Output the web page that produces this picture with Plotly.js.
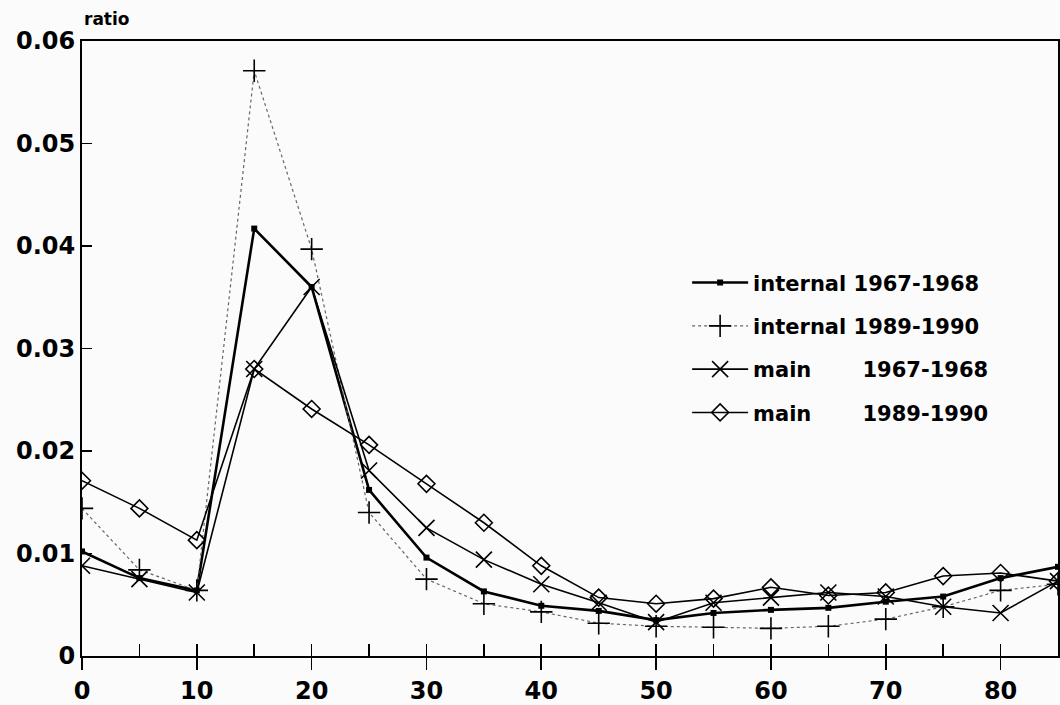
<!DOCTYPE html>
<html>
<head>
<meta charset="utf-8">
<script src="https://cdn.plot.ly/plotly-3.0.1.min.js"></script>
<style>html,body{margin:0;padding:0;background:#fbfbfb;}#chart{width:1060px;height:705px;}</style>
</head>
<body>
<div id="chart"></div>
<script>
// Data
const ages = [0, 5, 10, 15, 20, 25, 30, 35, 40, 45, 50, 55, 60, 65, 70, 75, 80, 85];
const internal6768 = [0.0102, 0.0076, 0.0064, 0.0417, 0.0360, 0.0162, 0.0096, 0.0063, 0.0049, 0.0044, 0.0035, 0.0042, 0.0045, 0.0047, 0.0053, 0.0058, 0.0076, 0.0087];
const internal8990 = [0.0144, 0.0084, 0.0064, 0.0571, 0.0397, 0.0140, 0.0075, 0.0051, 0.0043, 0.0032, 0.0029, 0.0028, 0.0027, 0.0029, 0.0036, 0.0048, 0.0064, 0.0070];
const main6768 = [0.0088, 0.0075, 0.0062, 0.0280, 0.0360, 0.0181, 0.0125, 0.0094, 0.0070, 0.0052, 0.0033, 0.0052, 0.0057, 0.0062, 0.0058, 0.0048, 0.0042, 0.0073];
const main8990 = [0.0171, 0.0144, 0.0113, 0.0280, 0.0241, 0.0206, 0.0168, 0.0130, 0.0088, 0.0057, 0.0051, 0.0056, 0.0067, 0.0059, 0.0062, 0.0078, 0.0081, 0.0073];
const seriesNames = ["internal 1967-1968", "internal 1989-1990", "main\u00A0\u00A0\u00A0\u00A0\u00A0\u00A0\u00A01967-1968", "main\u00A0\u00A0\u00A0\u00A0\u00A0\u00A0\u00A01989-1990"];
const yTickVals = [0, 0.01, 0.02, 0.03, 0.04, 0.05, 0.06];
const yTickText = ["0", "0.01", "0.02", "0.03", "0.04", "0.05", "0.06"];
const xMajorTicks = [0, 10, 20, 30, 40, 50, 60, 70, 80];
const xAllTicks = [0, 5, 10, 15, 20, 25, 30, 35, 40, 45, 50, 55, 60, 65, 70, 75, 80, 85];

const traces = [
  {x: ages, y: internal6768, name: seriesNames[0], legendgroup: 'a', mode: 'lines+markers',
   line: {color: '#000', width: 2.6}, marker: {symbol: 'square', size: 6, color: '#000'}},
  {x: ages, y: internal8990, name: seriesNames[1], legendgroup: 'b', mode: 'lines+markers',
   line: {color: '#666', width: 1.2, dash: 'dot'}, marker: {symbol: 'cross-thin-open', size: 16, color: '#000', line: {color: '#000', width: 1.6}}},
  {x: ages, y: main6768, name: seriesNames[2], legendgroup: 'c', mode: 'lines+markers',
   line: {color: '#000', width: 1.6}, marker: {symbol: 'x-thin-open', size: 16, color: '#000', line: {color: '#000', width: 1.6}}},
  {x: ages, y: main8990, name: seriesNames[3], legendgroup: 'd', mode: 'lines+markers',
   line: {color: '#000', width: 1.6}, marker: {symbol: 'diamond-open', size: 13, color: '#000', line: {color: '#000', width: 1.6}}},
  {x: [0], y: [0], xaxis: 'x2', mode: 'markers', marker: {opacity: 0}, showlegend: false, hoverinfo: 'skip'}
];

const layout = {
  width: 1060, height: 705,
  margin: {l: 82, r: 2, t: 41, b: 49},
  paper_bgcolor: '#fbfbfb', plot_bgcolor: '#fbfbfb',
  font: {family: 'DejaVu Sans', color: '#000'},
  showlegend: true,
  legend: {x: 0.62, y: 0.64, xanchor: 'left', yanchor: 'top', bgcolor: 'rgba(0,0,0,0)',
           font: {family: 'DejaVu Sans', size: 21, weight: 'bold', color: '#000'},
           itemwidth: 56, traceorder: 'grouped', tracegroupgap: 13},
  xaxis: {range: [0, 85], tickvals: xMajorTicks, ticks: 'outside', ticklen: 12, tickwidth: 1.6, tickcolor: '#000',
          showline: true, linewidth: 2, linecolor: '#000', mirror: true, showgrid: false, zeroline: false,
          tickfont: {family: 'DejaVu Sans', size: 24, weight: 'bold', color: '#000'}},
  xaxis2: {range: [0, 85], overlaying: 'x', anchor: 'y', side: 'bottom', tickvals: xAllTicks, ticks: 'inside',
           ticklen: 12, tickwidth: 1.6, tickcolor: '#000', showticklabels: false, showline: false,
           showgrid: false, zeroline: false},
  yaxis: {range: [0, 0.06], tickvals: yTickVals, ticktext: yTickText, ticks: 'inside', ticklen: 10, tickwidth: 1.6,
          tickcolor: '#000', showline: true, linewidth: 2, linecolor: '#000', mirror: true, showgrid: false,
          zeroline: false, tickfont: {family: 'DejaVu Sans', size: 24, weight: 'bold', color: '#000'}},
  annotations: [
    {text: 'ratio', xref: 'paper', yref: 'paper', x: 0, y: 1.036, xanchor: 'left', yanchor: 'middle',
     showarrow: false, font: {family: 'DejaVu Sans', size: 17, weight: 'bold', color: '#000'}}
  ]
};

Plotly.newPlot('chart', traces, layout, {displayModeBar: false, staticPlot: true});
</script>
</body>
</html>
